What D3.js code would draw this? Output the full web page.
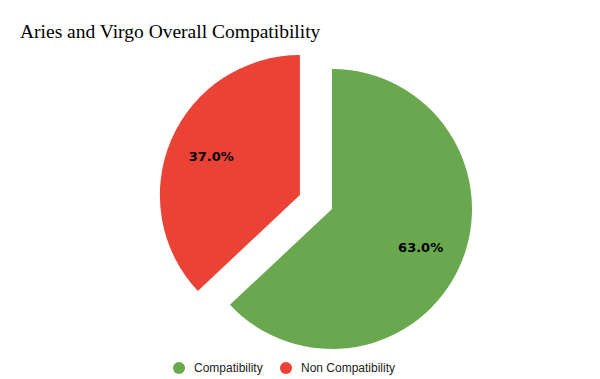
<!DOCTYPE html>
<html><head><meta charset="utf-8">
<script src="https://cdn.jsdelivr.net/npm/d3@7/dist/d3.min.js"></script>
<style>body{margin:0;background:#fff}</style>
</head><body>
<svg id="c" width="600" height="379"></svg>
<script>
const categories = ["Compatibility", "Non Compatibility"];
const values = [63.0, 37.0];
const colors = ["#6aa84f", "#ea4335"];
const exploded = [false, true];
const title = "Aries and Virgo Overall Compatibility";

const svg = d3.select("#c");
svg.append("rect").attr("width",600).attr("height",379).attr("fill","#fff");
svg.append("text").attr("x",20).attr("y",38)
  .attr("font-family","Liberation Serif, serif").attr("font-size",19.5).attr("fill","#000")
  .text(title);

const cx = 332, cy = 209, R = 140, off = 35;
const pie = d3.pie().sort(null).value(d=>d)(values);
const arc = d3.arc().innerRadius(0).outerRadius(R);
const g = svg.append("g").attr("transform",`translate(${cx},${cy})`);
pie.forEach((p,i)=>{
  const mid = (p.startAngle+p.endAngle)/2;
  const dx = exploded[i] ? Math.sin(mid)*off : 0, dy = exploded[i] ? -Math.cos(mid)*off : 0;
  const sg = g.append("g").attr("transform",`translate(${dx},${dy})`);
  sg.append("path").attr("d",arc(p)).attr("fill",colors[i]);
  const lr = 0.69*R;
  sg.append("text").attr("x",Math.sin(mid)*lr).attr("y",-Math.cos(mid)*lr)
    .attr("text-anchor","middle").attr("dominant-baseline","central")
    .attr("font-family","DejaVu Sans, sans-serif").attr("font-weight","bold")
    .attr("font-size",13).attr("fill","#000")
    .text(d3.format(".1f")(values[i])+"%");
});

const leg = svg.append("g");
const lx = [179, 286];
categories.forEach((c,i)=>{
  leg.append("circle").attr("cx",lx[i]).attr("cy",368).attr("r",6).attr("fill",colors[i]);
  leg.append("text").attr("x",lx[i]+15).attr("y",368).attr("dominant-baseline","central")
    .attr("font-family","Liberation Sans, Arial, sans-serif").attr("font-size",12).attr("fill","#222")
    .text(c);
});
</script>
</body></html>
